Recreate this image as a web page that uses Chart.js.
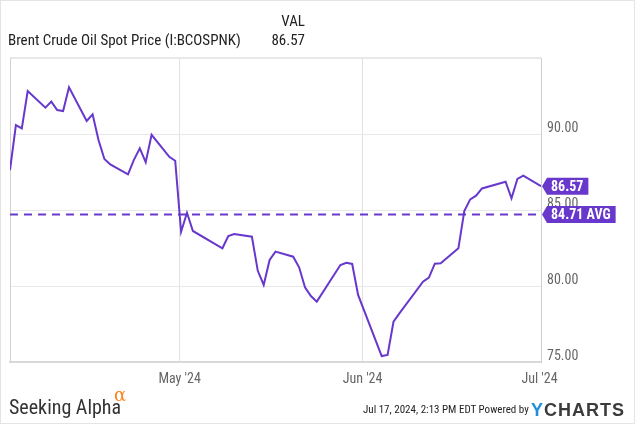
<!DOCTYPE html>
<html>
<head>
<meta charset="utf-8">
<script src="https://cdn.jsdelivr.net/npm/chart.js@4.4.1/dist/chart.umd.min.js"></script>
<style>
  html, body { margin: 0; padding: 0; background: #fff; }
  #frame { position: relative; width: 635px; height: 424px; overflow: hidden; }
  #chart { position: absolute; left: 0; top: 0; }
  #edge { position: absolute; left: 0; top: 0; width: 635px; height: 424px; box-sizing: border-box; border: 1px solid #e4e4e4; pointer-events: none; }
  .txt { position: absolute; white-space: nowrap; font-family: "Liberation Sans Narrow", "Roboto Condensed", "DejaVu Sans Condensed", sans-serif; color: #222; }
</style>
</head>
<body>
<div id="frame">
  <canvas id="chart" width="635" height="424"></canvas>
  <div class="txt" style="left:8px; top:31px; font-size:15px; line-height:18px;">Brent Crude Oil Spot Price (I:BCOSPNK)</div>
  <div class="txt" style="right:330px; top:12px; font-size:15px; line-height:18px;">VAL</div>
  <div class="txt" style="right:330px; top:31px; font-size:15px; line-height:18px;" id="hdrVal"></div>
  <div class="txt" style="left:9px; top:396px; font-size:20px; line-height:22px; color:#333;">Seeking Alpha</div>
  <div class="txt" style="left:114px; top:385px; font-size:18px; line-height:20px; color:#f7861f; font-family:'DejaVu Serif', serif;">α</div>
  <div class="txt" style="left:363px; top:403px; font-size:11px; line-height:14px;">Jul 17, 2024, 2:13 PM EDT Powered by</div>
  <div class="txt" style="left:531px; top:399px; font-size:18px; line-height:22px; font-weight:bold; letter-spacing:1px; font-family:'Liberation Sans', Arial, sans-serif; color:#3b3b3b;"><span style="color:#1e8fd8;">Y</span>CHARTS</div>
  <div id="edge"></div>
</div>
<script>
// Brent spot closes, Apr 2 - Jul 1 2024
const dates = [
  '2024-04-02', '2024-04-03', '2024-04-04', '2024-04-05',
  '2024-04-08', '2024-04-09', '2024-04-10', '2024-04-11', '2024-04-12',
  '2024-04-15', '2024-04-16', '2024-04-17', '2024-04-18', '2024-04-19',
  '2024-04-22', '2024-04-23', '2024-04-24', '2024-04-25', '2024-04-26',
  '2024-04-29', '2024-04-30', '2024-05-01', '2024-05-02', '2024-05-03',
  '2024-05-08', '2024-05-09', '2024-05-10',
  '2024-05-13', '2024-05-14', '2024-05-15', '2024-05-16', '2024-05-17',
  '2024-05-20', '2024-05-21', '2024-05-22', '2024-05-23', '2024-05-24',
  '2024-05-28', '2024-05-29', '2024-05-30', '2024-05-31',
  '2024-06-04', '2024-06-05', '2024-06-06', '2024-06-07',
  '2024-06-11', '2024-06-12', '2024-06-13', '2024-06-14',
  '2024-06-17', '2024-06-18', '2024-06-19', '2024-06-20', '2024-06-21',
  '2024-06-25', '2024-06-26', '2024-06-27', '2024-06-28',
  '2024-07-01'
];
const prices = [
  87.63, 90.59, 90.37, 92.83,
  91.73, 92.13, 91.58, 91.51, 93.07,
  90.86, 91.29, 89.60, 88.36, 88.00,
  87.35, 88.30, 89.06, 88.15, 89.95,
  88.50, 88.24, 83.57, 84.82, 83.62,
  82.48, 83.29, 83.42,
  83.24, 81.00, 80.07, 81.71, 82.26,
  81.93, 81.23, 79.91, 79.34, 78.97,
  81.38, 81.53, 81.45, 79.41,
  75.39, 75.46, 77.65, 78.20,
  80.28, 80.55, 81.47, 81.49,
  82.48, 84.93, 85.70, 85.94, 86.42,
  86.86, 85.77, 87.04, 87.26,
  86.57
];
const avgPrice = 84.71;
const lastPrice = 86.57;

const monthTickDates = ['2024-05-01', '2024-06-01', '2024-07-01'];
const monthTickLabels = ["May '24", "Jun '24", "Jul '24"];
const yTicks = [75, 80, 85, 90, 95];

const purple = 'rgb(104, 56, 204)';
const narrow = "'Liberation Sans Narrow', 'Roboto Condensed', 'DejaVu Sans Condensed', sans-serif";

document.getElementById('hdrVal').textContent = lastPrice.toFixed(2);

// day number relative to May 1 (UTC)
const base = Date.UTC(2024, 4, 1);
function dayNum(s) {
    const p = s.split('-').map(Number);
    return (Date.UTC(p[0], p[1] - 1, p[2]) - base) / 86400000;
}

const points = dates.map((d, i) => ({ x: dayNum(d), y: prices[i] }));
const xMin = dayNum(dates[0]);
const xMax = dayNum(dates[dates.length - 1]);
// month lines sit a few hours before the day's point in the source
const monthTicks = monthTickDates.map(d => dayNum(d) - 0.25);

function drawBadge(ctx, xTip, y, text) {
    ctx.save();
    ctx.font = 'bold 14px ' + narrow;
    const w = ctx.measureText(text).width + 9;
    const h = 17;
    const x0 = xTip + 5;
    ctx.beginPath();
    ctx.moveTo(xTip, y);
    ctx.lineTo(x0, y - h / 2);
    ctx.lineTo(x0 + w, y - h / 2);
    ctx.lineTo(x0 + w, y + h / 2);
    ctx.lineTo(x0, y + h / 2);
    ctx.closePath();
    ctx.fillStyle = purple;
    ctx.fill();
    ctx.fillStyle = '#fff';
    ctx.textAlign = 'left';
    ctx.textBaseline = 'middle';
    ctx.fillText(text, x0 + 4, y + 1);
    ctx.restore();
}

const extras = {
    id: 'extras',
    beforeDatasetsDraw(chart) {
        const { ctx, chartArea } = chart;
        ctx.save();
        ctx.strokeStyle = '#d2d2d2';
        ctx.lineWidth = 1;
        ctx.beginPath();
        ctx.moveTo(chartArea.left + 0.5, chartArea.top);
        ctx.lineTo(chartArea.left + 0.5, chartArea.bottom);
        ctx.stroke();
        ctx.restore();
    },
    afterDraw(chart) {
        const y = chart.scales.y;
        const xTip = chart.chartArea.right + 1;
        drawBadge(chart.ctx, xTip, y.getPixelForValue(avgPrice), avgPrice.toFixed(2) + ' AVG');
        drawBadge(chart.ctx, xTip, y.getPixelForValue(lastPrice), lastPrice.toFixed(2));
    }
};

new Chart(document.getElementById('chart').getContext('2d'), {
    type: 'line',
    data: {
        datasets: [{
            label: 'Brent Crude Oil Spot Price',
            data: points,
            borderColor: purple,
            borderWidth: 2,
            pointRadius: 0,
            tension: 0,
            fill: false
        }, {
            label: 'Average',
            data: [{ x: xMin, y: avgPrice }, { x: xMax, y: avgPrice }],
            borderColor: purple,
            borderWidth: 2,
            borderDash: [8, 6],
            pointRadius: 0,
            fill: false
        }]
    },
    options: {
        responsive: false,
        animation: false,
        layout: { padding: { left: 10, top: 58, right: 0, bottom: 0 } },
        plugins: {
            legend: { display: false },
            tooltip: { enabled: false }
        },
        scales: {
            x: {
                type: 'linear',
                min: xMin,
                max: xMax,
                afterBuildTicks: s => { s.ticks = monthTicks.map(v => ({ value: v })); },
                afterFit: s => { s.height = 62; },
                grid: {
                    drawTicks: false,
                    color: ctx => ctx.index === 2 ? 'rgba(0,0,0,0)' : '#e2e2e2',
                    lineWidth: 1
                },
                border: { color: '#d9d9d9', width: 2 },
                ticks: {
                    autoSkip: false,
                    maxRotation: 0,
                    padding: 9,
                    color: '#666',
                    font: { family: narrow, size: 14 },
                    callback: (v, i) => monthTickLabels[i]
                }
            },
            y: {
                position: 'right',
                min: yTicks[0],
                max: yTicks[yTicks.length - 1],
                afterBuildTicks: s => { s.ticks = yTicks.map(v => ({ value: v })); },
                afterFit: s => { s.width = 94; },
                grid: {
                    drawTicks: false,
                    color: '#e8e8e8',
                    lineWidth: ctx => ctx.index === yTicks.length - 1 ? 2 : 1
                },
                border: { color: '#cfcfcf', width: 1 },
                ticks: {
                    padding: 6,
                    labelOffset: -6,
                    color: '#666',
                    font: { family: narrow, size: 14 },
                    callback: v => v === 95 ? '' : v.toFixed(2)
                }
            }
        }
    },
    plugins: [extras]
});
</script>
</body>
</html>
